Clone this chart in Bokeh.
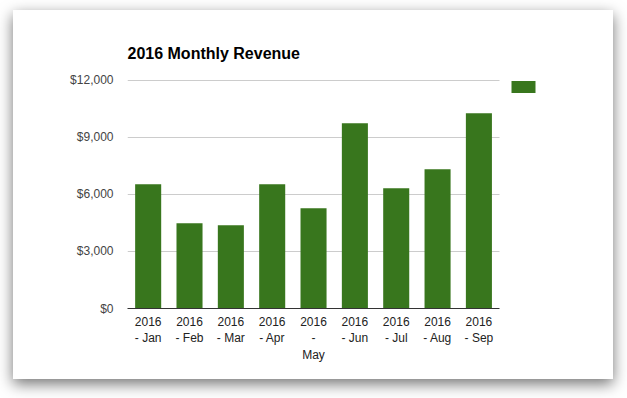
from bokeh.plotting import figure
from bokeh.models import (ColumnDataSource, FixedTicker, NumeralTickFormatter,
                          Legend, LegendItem, Range1d)
from bokeh.embed import file_html
from bokeh.resources import INLINE

# ---- data ----
categories = ["2016\n- Jan", "2016\n- Feb", "2016\n- Mar", "2016\n- Apr",
              "2016\n-\nMay", "2016\n- Jun", "2016\n- Jul", "2016\n- Aug",
              "2016\n- Sep"]
revenue = [6540, 4490, 4380, 6540, 5280, 9750, 6330, 7330, 10280]
y_ticks = [0, 3000, 6000, 9000, 12000]
title_text = "2016 Monthly Revenue"
bar_color = "#38761d"

n = len(categories)
xpos = [i + 0.5 for i in range(n)]
src = ColumnDataSource(dict(x=xpos, val=revenue, cat=categories))

p = figure(x_range=Range1d(0, n + 0.99), y_range=Range1d(0, 12050),
           width=600, height=369, output_backend="svg",
           toolbar_location=None, title=title_text,
           min_border_left=114, min_border_right=73,
           min_border_top=69, min_border_bottom=71)

p.margin = (10, 0, 0, 13)
p.styles = {"box-shadow": "0px 5px 14px rgba(0,0,0,0.55)", "background": "white"}

r = p.vbar(x="x", top="val", width=0.63, source=src, color=bar_color,
           line_color=None)

p.outline_line_color = None
p.background_fill_color = "white"
p.border_fill_color = "white"

p.title.text_font = "Liberation Sans"
p.title.text_font_size = "16px"
p.title.text_font_style = "bold"
p.title.text_color = "#000000"
p.title.align = "left"
p.title.standoff = 36

# y axis
p.yaxis.ticker = FixedTicker(ticks=y_ticks)
p.yaxis.formatter = NumeralTickFormatter(format="$0,0")
p.yaxis.axis_line_color = None
p.yaxis.major_tick_line_color = None
p.yaxis.minor_tick_line_color = None
p.yaxis.major_tick_out = 0
p.yaxis.major_tick_in = 0
p.yaxis.major_label_standoff = 14
p.yaxis.major_label_text_font = "Liberation Sans"
p.yaxis.major_label_text_font_size = "12px"
p.yaxis.major_label_text_color = "#444444"

# x axis
p.xaxis.ticker = FixedTicker(ticks=xpos)
p.xaxis.major_label_overrides = {x: c for x, c in zip(xpos, categories)}
p.xaxis.bounds = (0, n)
p.xaxis.axis_line_color = "#333333"
p.xaxis.axis_line_width = 1
p.xaxis.major_tick_line_color = None
p.xaxis.minor_tick_line_color = None
p.xaxis.major_tick_out = 0
p.xaxis.major_tick_in = 0
p.xaxis.major_label_standoff = 6
p.xaxis.major_label_text_font = "Liberation Sans"
p.xaxis.major_label_text_font_size = "12px"
p.xaxis.major_label_text_color = "#222222"
p.xaxis.major_label_text_line_height = 1.2

p.xgrid.grid_line_color = None
p.ygrid.ticker = FixedTicker(ticks=y_ticks)
p.ygrid.cross_bounds = (0, n)
p.ygrid.grid_line_color = "#cccccc"
p.ygrid.grid_line_width = 1

legend = Legend(items=[LegendItem(label=" ", renderers=[r])],
                location=(381, 214), margin=0, padding=0,
                glyph_width=30, glyph_height=15, label_standoff=0,
                label_width=0, label_height=15,
                border_line_color=None, background_fill_alpha=0,
                label_text_font_size="12px")
p.add_layout(legend)

open("out.html", "w").write(file_html(p, INLINE))
